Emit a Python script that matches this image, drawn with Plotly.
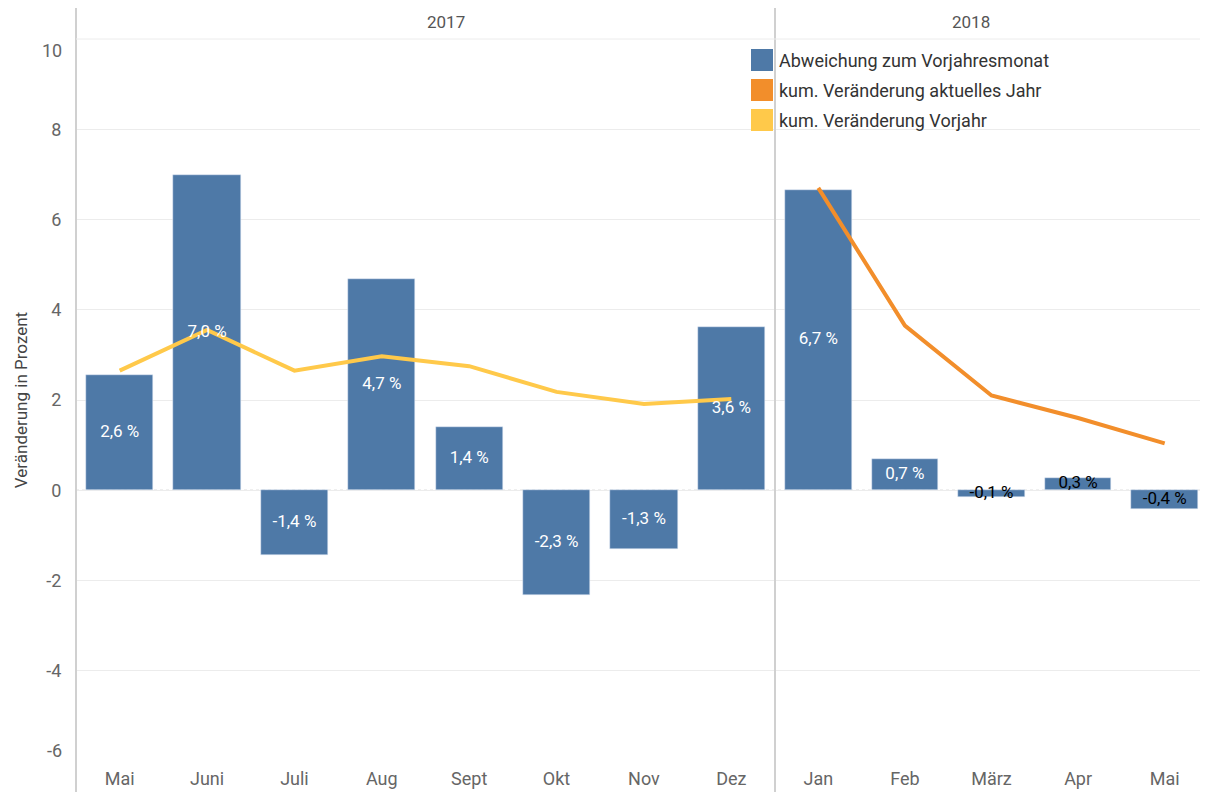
import plotly.graph_objects as go

# ---- data ----
months_2017 = ["Mai", "Juni", "Juli", "Aug", "Sept", "Okt", "Nov", "Dez"]
months_2018 = ["Jan", "Feb", "März", "Apr", "Mai"]
abw_2017 = [2.56, 6.98, -1.44, 4.68, 1.40, -2.33, -1.31, 3.62]
abw_2018 = [6.66, 0.69, -0.14, 0.27, -0.42]
kum_vorjahr_2017 = [2.65, 3.55, 2.65, 2.97, 2.75, 2.18, 1.91, 2.02]
kum_aktuell_2018 = [6.70, 3.65, 2.10, 1.60, 1.04]
label_colors_2017 = ["white"] * 8
label_colors_2018 = ["white", "white", "black", "black", "black"]
y_ticks = [-6, -4, -2, 0, 2, 4, 6, 8, 10]
y_tick_labels = ["-6", "-4", "-2", "0", "2", "4", "6", "8", "10"]

BLUE = "#4e79a7"
ORANGE = "#f28e2b"
YELLOW = "#ffc94a"
FONT = "Roboto"
FS = 18

def fmt(v):
    return f"{v:.1f}".replace(".", ",") + " %"

# page body has an 8px margin; figure is placed at (8, 8)
OFF = 8
W, H = 1208 - OFF, 792 - OFF
ML, MR, MT, MB = 76 - OFF, 0, 39 - OFF, 31
plot_w = W - ML - MR
split = 699 / plot_w

def py(pix):  # absolute page pixel y -> paper
    return (H - MB - (pix - OFF)) / (H - MT - MB)

def px(pix):  # absolute page pixel x -> paper
    return (pix - OFF - ML) / plot_w

fig = go.Figure()

# 2017 panel
fig.add_trace(go.Bar(x=months_2017, y=abw_2017, marker_color=BLUE, width=0.77,
                     xaxis="x", yaxis="y", showlegend=False, hoverinfo="skip"))
fig.add_trace(go.Scatter(x=months_2017, y=kum_vorjahr_2017, mode="lines",
                         line=dict(color=YELLOW, width=4), xaxis="x", yaxis="y",
                         showlegend=False))
fig.add_trace(go.Scatter(x=months_2017, y=[v / 2 for v in abw_2017], mode="text",
                         text=[fmt(v) for v in abw_2017],
                         textfont=dict(color=label_colors_2017, size=FS - 1, family=FONT),
                         xaxis="x", yaxis="y", showlegend=False))

# 2018 panel
fig.add_trace(go.Bar(x=months_2018, y=abw_2018, marker_color=BLUE, width=0.77,
                     xaxis="x2", yaxis="y2", showlegend=False, hoverinfo="skip"))
fig.add_trace(go.Scatter(x=months_2018, y=kum_aktuell_2018, mode="lines",
                         line=dict(color=ORANGE, width=4), xaxis="x2", yaxis="y2",
                         showlegend=False))
fig.add_trace(go.Scatter(x=months_2018, y=[v / 2 for v in abw_2018], mode="text",
                         text=[fmt(v) for v in abw_2018],
                         textfont=dict(color=label_colors_2018, size=FS - 1, family=FONT),
                         xaxis="x2", yaxis="y2", showlegend=False))

axis_font = dict(family=FONT, size=FS, color="#666666")
# outermost tick labels are drawn as annotations, nudged inside the plot (as in reference)
inner_ticktext = [t if v not in (y_ticks[0], y_ticks[-1]) else "" for v, t in zip(y_ticks, y_tick_labels)]
yaxis_common = dict(range=[y_ticks[0], y_ticks[-1]], tickvals=y_ticks,
                    showgrid=True, gridcolor="#ececec", gridwidth=1,
                    zeroline=False, showline=False, ticks="outside", ticklen=10,
                    tickcolor="rgba(0,0,0,0)", automargin=False)
xaxis_common = dict(type="category", showgrid=False, zeroline=False, showline=False,
                    tickfont=axis_font, ticks="outside", ticklen=1,
                    tickcolor="rgba(0,0,0,0)", automargin=False)

fig.update_layout(
    width=W, height=H,
    margin=dict(l=ML, r=MR, t=MT, b=MB),
    plot_bgcolor="white", paper_bgcolor="white",
    font=dict(family=FONT, color="#555555"),
    bargap=0,
    xaxis=dict(domain=[0, split], categoryorder="array",
               categoryarray=months_2017, range=[-0.5, len(months_2017) - 0.5],
               **xaxis_common),
    xaxis2=dict(domain=[split, 1], categoryorder="array",
                categoryarray=months_2018, range=[-0.5, len(months_2018) - 0.5],
                **xaxis_common),
    yaxis=dict(anchor="x", tickfont=axis_font, ticktext=inner_ticktext,
               title=dict(text="Veränderung in Prozent",
                          font=dict(family=FONT, size=FS - 1, color="#444444"),
                          standoff=14),
               **yaxis_common),
    yaxis2=dict(anchor="x2", matches="y", showticklabels=False, **yaxis_common),
)

shapes = []
# zero line dotted
shapes.append(dict(type="line", xref="paper", yref="y", x0=0, x1=1, y0=0, y1=0,
                   line=dict(color="#bdbdbd", width=1, dash="dot"), layer="below"))
# vertical separators
shapes.append(dict(type="line", xref="paper", yref="paper", x0=0, x1=0,
                   y0=py(792), y1=py(8), line=dict(color="#d0d0d0", width=2)))
shapes.append(dict(type="line", xref="paper", yref="paper", x0=split, x1=split,
                   y0=py(792), y1=py(8), line=dict(color="#d0d0d0", width=2)))
# header bottom line
shapes.append(dict(type="line", xref="paper", yref="paper", x0=0, x1=1,
                   y0=1, y1=1, line=dict(color="#ececec", width=1)))

annotations = [
    dict(text="2017", xref="paper", yref="paper", x=split / 2, y=py(22),
         yanchor="middle", showarrow=False,
         font=dict(family=FONT, size=FS - 1, color="#555555")),
    dict(text="2018", xref="paper", yref="paper", x=(split + 1) / 2, y=py(22),
         yanchor="middle", showarrow=False,
         font=dict(family=FONT, size=FS - 1, color="#555555")),
]
# outer y tick labels
for v, t, shift in [(y_ticks[-1], y_tick_labels[-1], -11), (y_ticks[0], y_tick_labels[0], 11)]:
    annotations.append(dict(text=t, xref="paper", yref="y", x=0, y=v, xanchor="right",
                            yanchor="middle", xshift=-12, yshift=shift, showarrow=False,
                            font=axis_font))

# legend (manual, colored squares)
legend_items = [("Abweichung zum Vorjahresmonat", BLUE),
                ("kum. Veränderung aktuelles Jahr", ORANGE),
                ("kum. Veränderung Vorjahr", YELLOW)]
for i, (name, col) in enumerate(legend_items):
    cy = 60 + 30 * i
    shapes.append(dict(type="rect", xref="paper", yref="paper",
                       x0=px(751), x1=px(773), y0=py(cy + 11), y1=py(cy - 11),
                       fillcolor=col, line=dict(width=0)))
    annotations.append(dict(text=name, xref="paper", yref="paper", x=px(777),
                            y=py(cy), xanchor="left", yanchor="middle",
                            showarrow=False,
                            font=dict(family=FONT, size=FS, color="#333333")))

fig.update_layout(shapes=shapes, annotations=annotations)
fig.write_html("out.html")
